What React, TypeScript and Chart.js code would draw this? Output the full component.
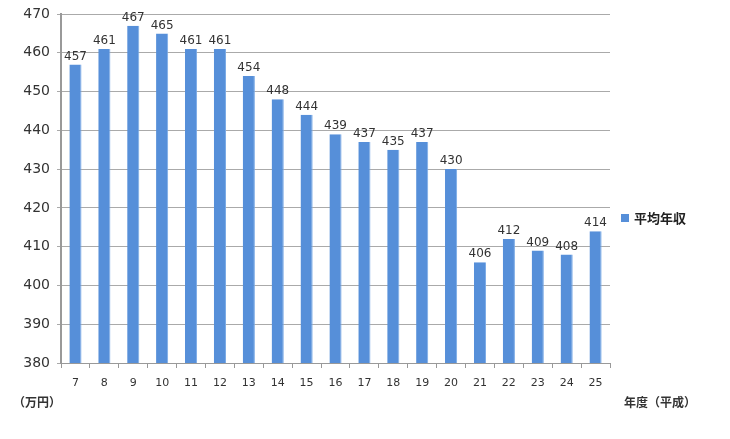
import { useEffect, useRef } from "react";
import { Chart, registerables, Plugin } from "chart.js";

Chart.register(...registerables);

const years = ["7", "8", "9", "10", "11", "12", "13", "14", "15", "16", "17", "18", "19", "20", "21", "22", "23", "24", "25"];
const income = [457, 461, 467, 465, 461, 461, 454, 448, 444, 439, 437, 435, 437, 430, 406, 412, 409, 408, 414];
const seriesName = "平均年収";
const yUnit = "（万円）";
const xUnit = "年度（平成）";

const FONT = "'DejaVu Sans', 'Noto Sans CJK JP', sans-serif";
const JP = "'Noto Sans CJK JP', sans-serif";
const BAR = "#568fd9";

const extras: Plugin<"bar"> = {
  id: "extras",
  afterDatasetsDraw(chart) {
    const ctx = chart.ctx;
    const meta = chart.getDatasetMeta(0);
    ctx.save();
    ctx.fillStyle = "#333";
    ctx.font = `12px ${FONT}`;
    ctx.textAlign = "center";
    ctx.textBaseline = "bottom";
    meta.data.forEach((bar, i) => {
      ctx.fillText(String(income[i]), bar.x, bar.y - 2);
    });

    // axis unit labels
    ctx.font = `bold 12px ${JP}`;
    ctx.textBaseline = "middle";
    ctx.textAlign = "left";
    ctx.fillText(yUnit, 13, 402);
    ctx.fillText(xUnit, 624, 402);

    // legend
    ctx.fillStyle = BAR;
    ctx.fillRect(621, 214, 8, 8);
    ctx.fillStyle = "#222";
    ctx.font = `bold 13px ${JP}`;
    ctx.fillText(seriesName, 634, 218);
    ctx.restore();
  },
};

export default function App() {
  const canvasRef = useRef<HTMLCanvasElement | null>(null);

  useEffect(() => {
    const canvas = canvasRef.current;
    if (!canvas) return;
    const chart = new Chart(canvas, {
      type: "bar",
      data: {
        labels: years,
        datasets: [
          {
            label: seriesName,
            data: income,
            backgroundColor: BAR,
            borderColor: "#7aaae6",
            borderWidth: { right: 1 } as any,
            borderSkipped: "bottom",
            barPercentage: 0.42,
            categoryPercentage: 1,
          },
        ],
      },
      options: {
        animation: false,
        responsive: false,
        devicePixelRatio: 1,
        layout: { padding: { top: 5, right: 120, left: 0, bottom: 0 } },
        plugins: {
          legend: { display: false },
          tooltip: { enabled: false },
        },
        scales: {
          x: {
            afterFit: (scale) => {
              scale.height = 76;
            },
            grid: {
              offset: true,
              drawOnChartArea: false,
              drawTicks: true,
              tickLength: 5,
              color: "#999",
            },
            border: { color: "#999", width: 1 },
            ticks: {
              color: "#333",
              font: { family: FONT, size: 11 },
              padding: 9,
              maxRotation: 0,
            },
          },
          y: {
            min: 380,
            max: 470,
            afterFit: (scale) => {
              scale.width = 61;
            },
            grid: {
              color: "#aaa",
              tickLength: 4,
              lineWidth: 1,
            },
            border: { color: "#999", width: 2 },
            ticks: {
              stepSize: 10,
              color: "#333",
              font: { family: FONT, size: 14, lineHeight: 1 },
              padding: 7,
            },
          },
        },
      },
      plugins: [extras],
    });
    return () => chart.destroy();
  }, []);

  return (
    <div style={{ position: "absolute", left: 0, top: 0, width: 730, height: 439, background: "#fff" }}>
      <canvas ref={canvasRef} width={730} height={439} style={{ width: 730, height: 439 }} />
    </div>
  );
}
